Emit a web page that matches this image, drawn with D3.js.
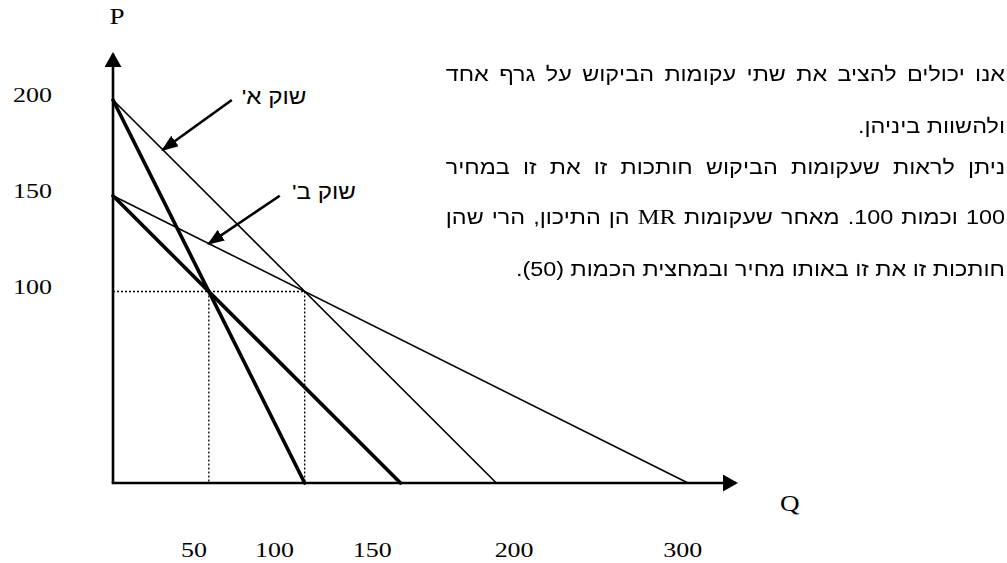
<!DOCTYPE html>
<html>
<head>
<meta charset="utf-8">
<script src="https://cdn.jsdelivr.net/npm/d3@7"></script>
<style>
  body { margin: 0; background: #fff; }
  #wrap { position: relative; width: 1007px; height: 563px; overflow: hidden; }
  #wrap svg { position: absolute; left: 0; top: 0; }
  #para {
    position: absolute; right: 2px; top: 0; width: 478px;
    transform: scaleX(1.17); transform-origin: right top;
  }
  .note {
    position: absolute; right: 0; width: 478px; direction: rtl;
    font-family: "Liberation Sans", Arial, sans-serif; font-size: 20px;
    line-height: 24px; white-space: nowrap; color: #000;
  }
  .note.just { text-align: justify; text-align-last: justify; }
  .note.last { text-align: right; }
  .note .lat { font-family: "Liberation Serif", "Times New Roman", serif; font-size: 21px; }
</style>
</head>
<body>
<div id="wrap"><div id="para"></div></div>
<script>
// tick values and where the figure actually prints their labels (in Q units)
const qTicks = [50, 100, 150, 200, 300];
const qTickLabelAt = [42, 84, 135, 209, 297];
const pTicks = [200, 150, 100];

// two markets: price intercept, demand and MR quantity intercepts
const markets = ["שוק א'", "שוק ב'"];
const priceIntercept = [200, 150];
const demandQ = [200, 300];
const mrQ = [100, 150];

// common price where the curves cross, and the two quantities
const crossP = 100;
const crossQ = [50, 100];

// pointer arrows: tail (near label) and tip on the demand curve
const tailQ = [62, 87];
const tailP = [200, 150];
const tipQ = [26, 50];
const labelQ = [84, 110];
const labelP = [202, 152];

// axis extents (arrow tips)
const qAxisMax = 325;
const pAxisMax = 224;

// paragraph lines
const noteLines = [
  { t: "אנו יכולים להציב את שתי עקומות הביקוש על גרף אחד", cls: "just", y: 62 },
  { t: "ולהשוות ביניהן.", cls: "last", y: 114 },
  { t: "ניתן לראות שעקומות הביקוש חותכות זו את זו במחיר", cls: "just", y: 155 },
  { t: "100 וכמות 100. מאחר שעקומות <span class='lat'>MR</span> הן התיכון, הרי שהן", cls: "just", y: 205 },
  { t: "חותכות זו את זו באותו מחיר ובמחצית הכמות (50).", cls: "last", y: 257 }
];

const x = d3.scaleLinear().domain([0, 300]).range([113, 688]);
const y = d3.scaleLinear().domain([0, 200]).range([483, 100]);

const stretch = 1.18; // the figure's lettering is drawn wider than normal

const svg = d3.select("#wrap").insert("svg", "#para")
    .attr("width", 1007)
    .attr("height", 563);

const defs = svg.append("defs");
defs.append("marker")
    .attr("id", "axisHead")
    .attr("viewBox", "0 0 15 17")
    .attr("refX", 13).attr("refY", 8.5)
    .attr("markerWidth", 15).attr("markerHeight", 17)
    .attr("markerUnits", "userSpaceOnUse")
    .attr("orient", "auto")
    .append("path").attr("d", "M0,0L15,8.5L0,17Z").attr("fill", "#000");
defs.append("marker")
    .attr("id", "pointHead")
    .attr("viewBox", "0 0 17 13")
    .attr("refX", 15).attr("refY", 6.5)
    .attr("markerWidth", 17).attr("markerHeight", 13)
    .attr("markerUnits", "userSpaceOnUse")
    .attr("orient", "auto")
    .append("path").attr("d", "M0,0L17,6.5L0,13Z").attr("fill", "#000");

const serif = "'Liberation Serif', 'Times New Roman', serif";
const sans = "'Liberation Sans', Arial, sans-serif";

//dotted guides
const guides = svg.append("g")
    .attr("stroke", "#000")
    .attr("stroke-width", 1.3)
    .attr("stroke-dasharray", "2,2")
    .attr("fill", "none");
guides.append("line")
    .attr("x1", x(0)).attr("y1", y(crossP))
    .attr("x2", x(d3.max(crossQ))).attr("y2", y(crossP));
guides.selectAll(".v").data(crossQ).enter().append("line")
    .attr("class", "v")
    .attr("x1", d => x(d)).attr("y1", y(crossP))
    .attr("x2", d => x(d)).attr("y2", y(0));

//demand curves (thin) and MR curves (thick)
const curves = [];
markets.forEach((m, i) => {
    curves.push({ p0: priceIntercept[i], q1: demandQ[i], w: 1.6 });
    curves.push({ p0: priceIntercept[i], q1: mrQ[i], w: 3.6 });
});
svg.append("g").selectAll("line").data(curves).enter().append("line")
    .attr("x1", x(0)).attr("y1", d => y(d.p0))
    .attr("x2", d => x(d.q1)).attr("y2", y(0))
    .attr("stroke", "#000")
    .attr("stroke-width", d => d.w)
    .attr("stroke-linecap", "round");

//axes
svg.append("line")
    .attr("x1", x(0)).attr("y1", y(0))
    .attr("x2", x(0)).attr("y2", y(pAxisMax))
    .attr("stroke", "#000").attr("stroke-width", 2.6)
    .attr("marker-end", "url(#axisHead)");
svg.append("line")
    .attr("x1", x(0) - 1.3).attr("y1", y(0))
    .attr("x2", x(qAxisMax)).attr("y2", y(0))
    .attr("stroke", "#000").attr("stroke-width", 2.6)
    .attr("marker-end", "url(#axisHead)");

//tick labels
const yPad = 61;
const yAxis = svg.append("g")
    .attr("transform", "translate(" + x(0) + ",0)")
    .call(d3.axisLeft(y).tickValues(pTicks).tickSize(0).tickPadding(yPad));
yAxis.select(".domain").remove();
yAxis.selectAll("text")
    .attr("font-family", serif).attr("font-size", 22)
    .attr("x", -yPad / stretch)
    .attr("transform", "scale(" + stretch + ",1)")
    .attr("dy", "0.08em");

const labelScale = d3.scaleOrdinal(qTicks, qTickLabelAt.map(d => x(d)));
const xAxis = svg.append("g")
    .attr("transform", "translate(0," + y(0) + ")")
    .call(d3.axisBottom(labelScale).tickSize(0).tickPadding(58));
xAxis.select(".domain").remove();
xAxis.selectAll("text")
    .attr("font-family", serif).attr("font-size", 22)
    .attr("transform", "scale(" + stretch + ",1)");

//axis titles
const titles = [
    { t: "P", q: 0, p: pAxisMax, dx: 4, dy: -30 },
    { t: "Q", q: qAxisMax, p: 0, dx: 54, dy: 28 }
];
svg.selectAll(".title").data(titles).enter().append("text")
    .attr("class", "title")
    .attr("transform", d => "translate(" + (x(d.q) + d.dx) + "," + (y(d.p) + d.dy) + ") scale(" + stretch + ",1)")
    .attr("text-anchor", "middle")
    .attr("font-family", serif).attr("font-size", 23)
    .text(d => d.t);

//pointer arrows with market names
const demandAt = (i, q) => priceIntercept[i] * (1 - q / demandQ[i]);
const pointers = svg.append("g");
markets.forEach((m, i) => {
    pointers.append("line")
        .attr("x1", x(tailQ[i])).attr("y1", y(tailP[i]))
        .attr("x2", x(tipQ[i])).attr("y2", y(demandAt(i, tipQ[i])))
        .attr("stroke", "#000").attr("stroke-width", 2.6)
        .attr("marker-end", "url(#pointHead)");
    pointers.append("text")
        .attr("transform", "translate(" + x(labelQ[i]) + "," + y(labelP[i]) + ") scale(1.15,1)")
        .attr("dy", "0.35em")
        .attr("text-anchor", "middle")
        .attr("direction", "rtl")
        .attr("font-family", sans).attr("font-size", 21)
        .text(m);
});

//paragraph text
d3.select("#para").selectAll(".note").data(noteLines).enter().append("div")
    .attr("class", d => "note " + d.cls)
    .attr("dir", "rtl")
    .style("top", d => d.y + "px")
    .html(d => d.t);
</script>
</body>
</html>
